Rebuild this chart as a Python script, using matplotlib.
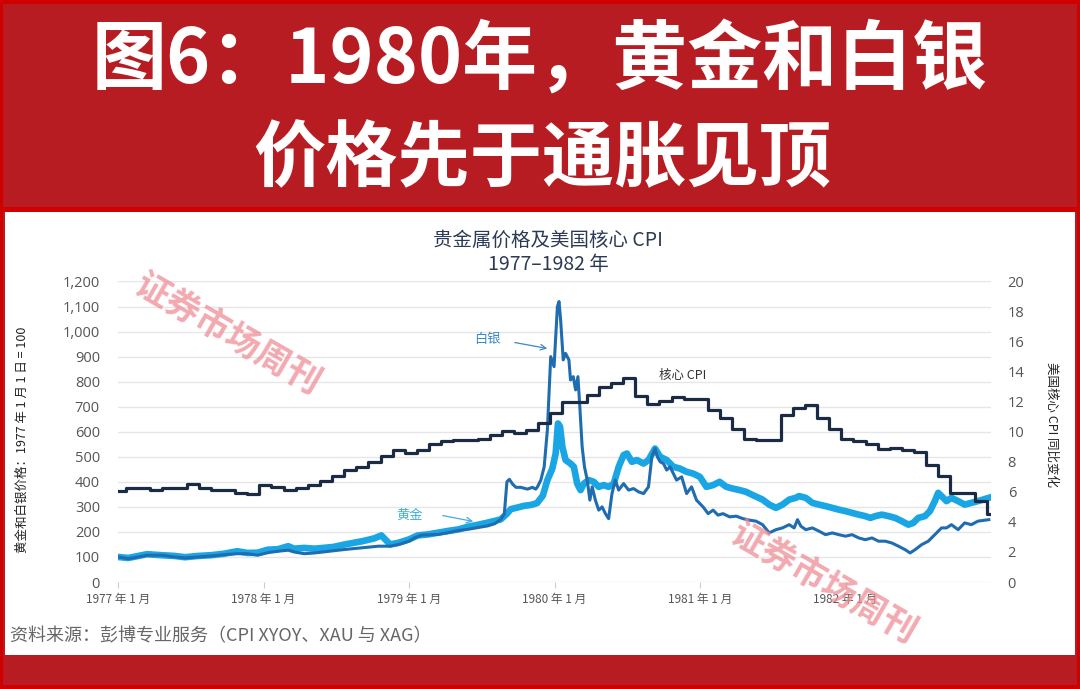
import matplotlib
matplotlib.use('Agg')
import matplotlib.pyplot as plt
from matplotlib.patches import Rectangle
import numpy as np

CJK = ['Noto Sans CJK SC', 'DejaVu Sans']
plt.rcParams['font.family'] = CJK
plt.rcParams['axes.unicode_minus'] = False

# ---------------- data ----------------
title_line1 = "图6：1980年，黄金和白银"
title_line2 = "价格先于通胀见顶"
chart_title = "贵金属价格及美国核心 CPI\n1977–1982 年"
x_tick_years = [1977, 1978, 1979, 1980, 1981, 1982]
x_tick_labels = ["1977 年 1 月", "1978 年 1 月", "1979 年 1 月",
                 "1980 年 1 月", "1981 年 1 月", "1982 年 1 月"]
left_ticks = list(range(0, 1201, 100))
right_ticks = list(range(0, 21, 2))

# Gold index (1977-01-01 = 100)
gold_t = [1977.00, 1977.07, 1977.14, 1977.20, 1977.30, 1977.39, 1977.46, 1977.55, 1977.64,
          1977.73, 1977.82, 1977.89, 1977.96, 1978.03, 1978.10, 1978.17, 1978.21, 1978.28,
          1978.35, 1978.41, 1978.48, 1978.56, 1978.68, 1978.76, 1978.81, 1978.87, 1978.93,
          1979.00, 1979.06, 1979.13, 1979.20, 1979.27, 1979.34, 1979.40, 1979.47, 1979.54,
          1979.59, 1979.63, 1979.67, 1979.70, 1979.75, 1979.79, 1979.84, 1979.88, 1979.92,
          1979.951, 1979.985, 1980.008, 1980.024, 1980.038, 1980.054, 1980.076, 1980.11,
          1980.133, 1980.156, 1980.179, 1980.202, 1980.236, 1980.27, 1980.304, 1980.338,
          1980.372, 1980.407, 1980.441, 1980.475, 1980.498, 1980.532, 1980.566, 1980.612,
          1980.646, 1980.691, 1980.726, 1980.771, 1980.817, 1980.862, 1980.908, 1980.953,
          1980.999, 1981.044, 1981.09, 1981.135, 1981.181, 1981.226, 1981.272, 1981.317,
          1981.363, 1981.43, 1981.476, 1981.522, 1981.567, 1981.613, 1981.658, 1981.681,
          1981.727, 1981.772, 1981.818, 1981.863, 1981.909, 1981.954, 1982.00, 1982.045,
          1982.091, 1982.136, 1982.171, 1982.205, 1982.25, 1982.296, 1982.341, 1982.387,
          1982.432, 1982.466, 1982.50, 1982.546, 1982.58, 1982.614, 1982.637, 1982.66,
          1982.694, 1982.728, 1982.774, 1982.819, 1982.865, 1982.91, 1982.985]
gold_v = [100, 96, 104, 111, 107, 104, 99, 104, 107,
          113, 123, 116, 117, 129, 131, 143, 133, 136,
          133, 136, 140, 150, 163, 174, 186, 150, 157,
          170, 186, 190, 197, 204, 210, 220, 228, 237,
          244, 250, 271, 291, 298, 304, 308, 315, 345,
          407, 453, 513, 633, 620, 540, 487, 473,
          460, 393, 367, 393, 407, 400, 380, 387,
          380, 393, 460, 507, 513, 480, 487, 473,
          487, 533, 500, 487, 460, 453, 440, 433,
          420, 380, 387, 400, 380, 373, 367, 360,
          347, 329, 309, 296, 309, 329, 336, 343,
          336, 316, 309, 303, 296, 289, 283, 276,
          269, 263, 256, 263, 269, 263, 256, 243,
          229, 236, 256, 263, 283, 323, 356, 343,
          323, 336, 323, 309, 316, 323, 336]

# Silver index (1977-01-01 = 100)
silver_t = [1977.00, 1977.07, 1977.14, 1977.20, 1977.30, 1977.39, 1977.46, 1977.55, 1977.64,
            1977.73, 1977.82, 1977.89, 1977.96, 1978.03, 1978.10, 1978.17, 1978.21, 1978.28,
            1978.35, 1978.41, 1978.48, 1978.56, 1978.68, 1978.79, 1978.87, 1978.93, 1979.00,
            1979.04, 1979.09, 1979.13, 1979.20, 1979.27, 1979.34, 1979.40, 1979.47, 1979.54,
            1979.59, 1979.63, 1979.655, 1979.673, 1979.69, 1979.712, 1979.735, 1979.769,
            1979.814, 1979.848, 1979.871, 1979.883, 1979.906, 1979.929, 1979.951, 1979.974,
            1979.997, 1980.02, 1980.031, 1980.042, 1980.06, 1980.076, 1980.099, 1980.11,
            1980.129, 1980.145, 1980.161, 1980.174, 1980.19, 1980.206, 1980.225, 1980.243,
            1980.259, 1980.281, 1980.304, 1980.327, 1980.35, 1980.372, 1980.395, 1980.418,
            1980.441, 1980.475, 1980.509, 1980.543, 1980.578, 1980.612, 1980.646, 1980.669,
            1980.691, 1980.707, 1980.726, 1980.749, 1980.771, 1980.794, 1980.817, 1980.839,
            1980.874, 1980.908, 1980.942, 1980.976, 1981.021, 1981.056, 1981.09, 1981.124,
            1981.158, 1981.204, 1981.249, 1981.295, 1981.34, 1981.385, 1981.43, 1981.476,
            1981.522, 1981.567, 1981.613, 1981.647, 1981.67, 1981.693, 1981.727, 1981.772,
            1981.818, 1981.863, 1981.909, 1981.954, 1982.00, 1982.045, 1982.091, 1982.136,
            1982.182, 1982.227, 1982.273, 1982.318, 1982.364, 1982.41, 1982.444, 1982.478,
            1982.523, 1982.569, 1982.614, 1982.66, 1982.694, 1982.728, 1982.774, 1982.819,
            1982.865, 1982.91, 1982.985]
silver_v = [100, 93, 100, 107, 107, 100, 96, 100, 104,
            109, 113, 113, 107, 117, 123, 127, 120, 113,
            116, 120, 125, 130, 137, 143, 143, 150, 163,
            177, 188, 188, 190, 197, 206, 210, 217, 224,
            233, 250, 271, 400, 410, 391, 378, 378,
            371, 378, 371, 380, 407, 460, 607, 900,
            860, 1100, 1120, 1047, 887, 913, 887, 807,
            820, 767, 820, 700, 540, 460, 407, 327,
            380, 327, 287, 300, 273, 253, 353, 407,
            367, 393, 367, 373, 360, 353, 380, 500,
            533, 500, 480, 473, 447, 460, 433, 407,
            420, 353, 380, 327, 300, 273, 287, 267,
            273, 260, 263, 253, 247, 243, 229, 196,
            209, 216, 229, 216, 249, 223, 209, 216,
            203, 189, 196, 189, 183, 189, 176, 169,
            176, 163, 163, 156, 143, 129, 116, 129,
            149, 163, 189, 216, 216, 229, 209, 236,
            229, 243, 249]

# US core CPI YoY (%), monthly Jan 1977 .. Dec 1982
cpi_start = 6.07
cpi_yoy = [6.27, 6.27, 6.12, 6.28, 6.28, 6.55, 6.27, 6.12, 6.12, 5.95, 5.85, 6.45,
           6.33, 6.12, 6.28, 6.45, 6.75, 7.05, 7.46, 7.64, 7.97, 8.36, 8.76, 8.58,
           8.76, 9.20, 9.36, 9.43, 9.43, 9.54, 9.76, 10.05, 9.94, 10.10, 10.60, 11.25,
           12.00, 12.00, 12.45, 12.95, 13.25, 13.60, 12.40, 11.85, 12.05, 12.30, 12.15, 12.15,
           11.45, 10.90, 10.20, 9.50, 9.45, 9.45, 11.10, 11.55, 11.80, 10.92, 10.18, 9.55,
           9.38, 9.16, 8.82, 8.89, 8.76, 8.67, 7.82, 7.04, 5.93, 5.93, 5.38, 4.50]

# ---------------- figure ----------------
W, H = 1080, 689
fig = plt.figure(figsize=(W / 100, H / 100), dpi=100)
banner_red = '#B71C22'
bright_red = '#D00000'
fig.patch.set_facecolor(banner_red)

def frect(x0, y0, x1, y1, color, z=0):
    fig.add_artist(Rectangle((x0 / W, 1 - y1 / H), (x1 - x0) / W, (y1 - y0) / H,
                             transform=fig.transFigure, facecolor=color,
                             edgecolor='none', zorder=z))

# bright red frame and separator lines
frect(0, 0, W, 4, bright_red)
frect(0, H - 4, W, H, bright_red)
frect(0, 0, 3, H, bright_red)
frect(W - 3, 0, W, H, bright_red)
frect(0, 207, W, 212, bright_red)
# white chart panel
frect(5, 212, W - 5, 655, 'white')

# banner title
fig.text(540 / W, 1 - 62 / H, title_line1, ha='center', va='center', color='white',
         fontsize=54, fontweight='heavy', family=CJK)
fig.text(542 / W, 1 - 160 / H, title_line2, ha='center', va='center', color='white',
         fontsize=52, fontweight='heavy', family=CJK)

# axes
x0, x1 = 118, 991
y_top, y_bot = 281.5, 582
ax = fig.add_axes([x0 / W, 1 - y_bot / H, (x1 - x0) / W, (y_bot - y_top) / H])
ax.patch.set_alpha(0)
ax2 = ax.twinx()
ax2.patch.set_alpha(0)

gold_c = '#1AA6E4'
silver_c = '#1F6CB0'
cpi_c = '#1B2A45'

ax.plot(gold_t, gold_v, color=gold_c, lw=4.8, solid_joinstyle='round', zorder=3)
ax.plot(silver_t, silver_v, color=silver_c, lw=2.2, solid_joinstyle='round', zorder=4)

months = np.arange(len(cpi_yoy))
cpi_t = np.r_[1977.0, 1977 + (months + 0.65) / 12.0]
cpi_v = np.r_[cpi_start, cpi_yoy]
ax2.step(np.r_[cpi_t, 1982.99], np.r_[cpi_v, cpi_v[-1]], where='post',
         color=cpi_c, lw=2.3, zorder=5)

ax.set_xlim(1977.0, 1983.0)
ax.set_ylim(0, 1200)
ax2.set_ylim(0, 20)
ax.set_yticks(left_ticks)
ax.set_yticklabels([f"{v:,}" for v in left_ticks])
ax2.set_yticks(right_ticks)
ax2.set_yticklabels([str(v) for v in right_ticks])
ax.set_xticks(x_tick_years)
ax.set_xticklabels(x_tick_labels)

ax.grid(axis='y', color='#E6E6E6', lw=1.0)
ax.set_axisbelow(True)
for a in (ax, ax2):
    for s in a.spines.values():
        s.set_visible(False)
ax.tick_params(axis='y', length=0, pad=13, labelsize=10.5, labelcolor='#555555')
ax2.tick_params(axis='y', length=0, pad=12, labelsize=10.5, labelcolor='#555555')
ax.tick_params(axis='x', length=4, color='#CCCCCC', pad=4, labelsize=8.5, labelcolor='#555555')
for lab in ax.get_yticklabels() + ax2.get_yticklabels():
    lab.set_family(['Open Sans', 'DejaVu Sans'])
for lab in ax.get_xticklabels():
    lab.set_family(CJK)

# axis labels
fig.text(22 / W, 1 - 440 / H, "黄金和白银价格：1977 年 1 月 1 日 = 100", rotation=90,
         ha='center', va='center', fontsize=9, color='#222222', family=CJK)
fig.text(1052 / W, 1 - 425 / H, "美国核心 CPI 同比变化", rotation=270,
         ha='center', va='center', fontsize=9, color='#222222', family=CJK)

# chart title
fig.text(548 / W, 1 - 252 / H, chart_title, ha='center', va='center', fontsize=14,
         color='#2C3A55', linespacing=1.2, family=CJK)

# annotations
def px2data(px, py):
    return (1977 + (px - x0) / (x1 - x0) * 6.0, (y_bot - py) / (y_bot - y_top) * 1200)

ax.annotate("", xy=px2data(550, 349), xytext=px2data(512, 342),
            arrowprops=dict(arrowstyle='->', color='#3C88C8', lw=0.9))
ax.text(*px2data(487, 340), "白银", ha='center', va='center', fontsize=9.5,
        color='#3C88C8', family=CJK)
ax.annotate("", xy=px2data(476, 522), xytext=px2data(440, 515),
            arrowprops=dict(arrowstyle='->', color='#41AEE3', lw=0.9))
ax.text(*px2data(410, 515), "黄金", ha='center', va='center', fontsize=9.5,
        color='#41AEE3', family=CJK)
ax.text(*px2data(683, 375), "核心 CPI", ha='center', va='center', fontsize=9,
        color='#333333', family=CJK)

# watermarks
for cx, cy in [(228, 334), (824, 583)]:
    fig.text(cx / W, 1 - cy / H, "证券市场周刊", rotation=-30, ha='center', va='center',
             fontsize=25, fontweight='bold', color='#EE8D96', alpha=0.75,
             family=CJK, zorder=10)

# source
fig.text(10 / W, 1 - 636 / H, "资料来源：彭博专业服务（CPI XYOY、XAU 与 XAG）",
         ha='left', va='center', fontsize=13, color='#666666', family=CJK)

fig.savefig('out.png', dpi=100, facecolor=fig.get_facecolor())
